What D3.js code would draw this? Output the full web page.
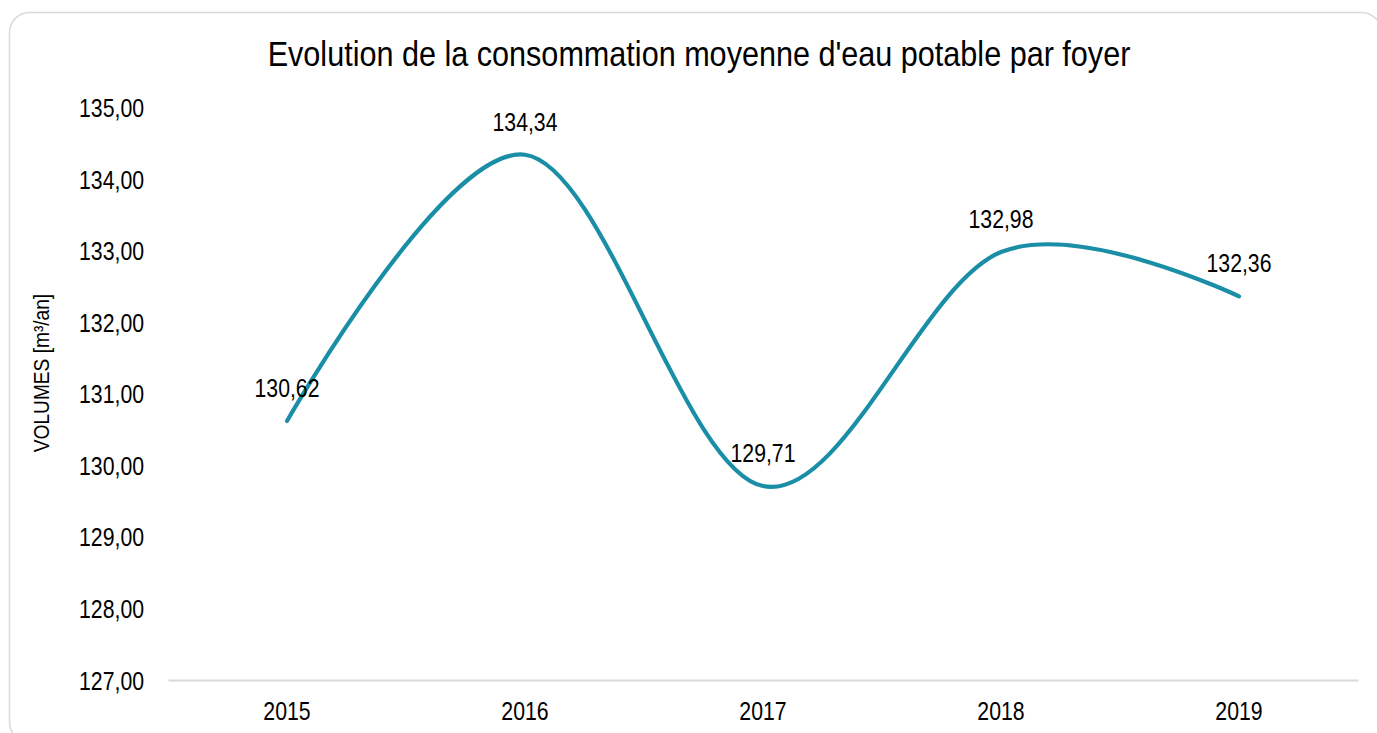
<!DOCTYPE html>
<html>
<head>
<meta charset="utf-8">
<script src="https://cdn.jsdelivr.net/npm/d3@7"></script>
<style>
  html, body { margin: 0; padding: 0; background: #ffffff; }
  svg { display: block; }
  text { font-family: "Liberation Sans Narrow", "Arial Narrow", "Liberation Sans", Arial, sans-serif; fill: #000; }
</style>
</head>
<body>
<svg id="chart" width="1377" height="733"></svg>
<script>
const title = "Evolution de la consommation moyenne d'eau potable par foyer";
const yAxisTitle = "VOLUMES [m³/an]";
const years = ["2015", "2016", "2017", "2018", "2019"];
const volumes = [130.62, 134.34, 129.71, 132.98, 132.36];
const yTicks = [127, 128, 129, 130, 131, 132, 133, 134, 135];

const fmt = v => d3.format(".2f")(v).replace(".", ",");
const NARROW = 0.85; // emulate a condensed face

const svg = d3.select("#chart");

// card border
svg.append("rect")
  .attr("x", 9.5).attr("y", 12.5)
  .attr("width", 1372).attr("height", 730)
  .attr("rx", 20).attr("ry", 20)
  .attr("fill", "#fff")
  .attr("stroke", "#d9d9d9")
  .attr("stroke-width", 1.5);

const plot = { left: 168, right: 1358, top: 107.5, bottom: 680 };

const x = d3.scaleBand().domain(years).range([plot.left, plot.right]).padding(0);
const y = d3.scaleLinear().domain([127, 135]).range([plot.bottom, plot.top]);

// title
svg.append("g")
  .attr("transform", `translate(699,66) scale(${NARROW},1)`)
  .append("text")
  .attr("text-anchor", "middle")
  .style("font-size", "36px")
  .text(title);

// y axis (labels only)
const yAxis = d3.axisLeft(y).tickValues(yTicks).tickFormat(fmt).tickSize(0).tickPadding(0);
const gy = svg.append("g").attr("transform", `translate(144,0)`).call(yAxis);
gy.select(".domain").remove();
gy.selectAll("text")
  .style("font-size", "25px")
  .attr("x", 0)
  .attr("dy", "0.36em")
  .attr("transform", `scale(${NARROW},1)`);

// x axis
const xAxis = d3.axisBottom(x).tickSize(0).tickPadding(0);
const gx = svg.append("g").attr("transform", `translate(0,${plot.bottom})`).call(xAxis);
gx.select(".domain").attr("stroke", "#d9d9d9").attr("stroke-width", 2);
gx.selectAll("text")
  .style("font-size", "25px")
  .attr("dy", 0).attr("y", 40)
  .attr("transform", `scale(${NARROW},1)`);

// y axis title
svg.append("g")
  .attr("transform", `translate(49,373) rotate(-90) scale(${NARROW},1)`)
  .append("text")
  .attr("text-anchor", "middle")
  .style("font-size", "22.5px")
  .text(yAxisTitle);

// line
const line = d3.line()
  .x((d, i) => x(years[i]) + x.bandwidth() / 2)
  .y(d => y(d))
  .curve(d3.curveCardinal.tension(0));

svg.append("path")
  .datum(volumes)
  .attr("d", line)
  .attr("fill", "none")
  .attr("stroke", "#1a8ea7")
  .attr("stroke-width", 4.2)
  .attr("stroke-linecap", "round");

// data labels
svg.selectAll(".dl")
  .data(volumes)
  .enter().append("g")
  .attr("class", "dl")
  .attr("transform", (d, i) => `translate(${x(years[i]) + x.bandwidth() / 2},${y(d) - 24}) scale(${NARROW},1)`)
  .append("text")
  .attr("text-anchor", "middle")
  .style("font-size", "25px")
  .text(d => fmt(d));
</script>
</body>
</html>
